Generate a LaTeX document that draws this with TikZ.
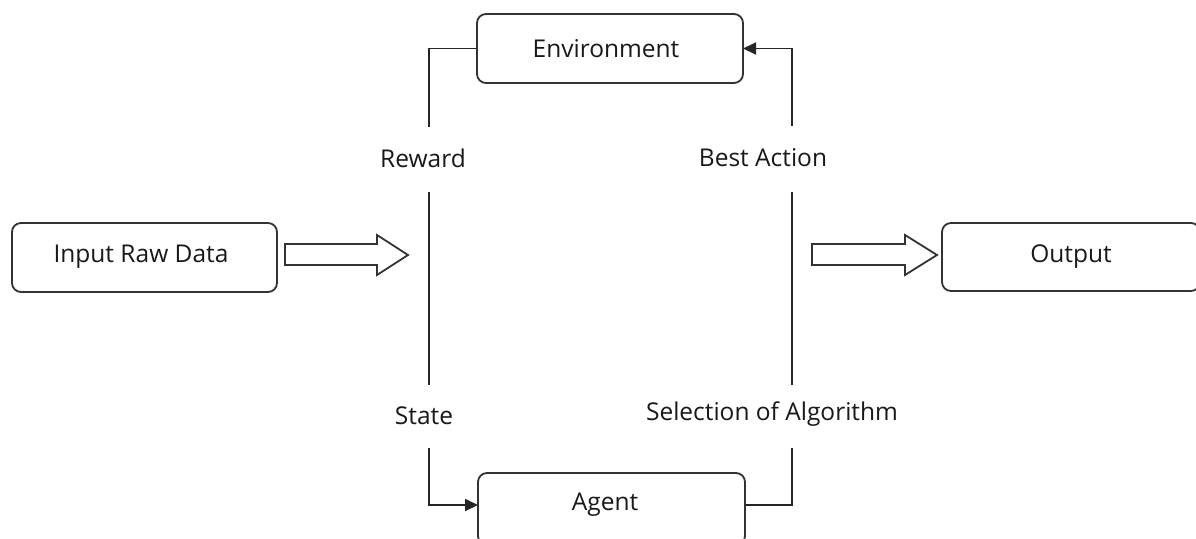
\documentclass[tikz,border=0pt]{standalone}
\usepackage{fontspec}
\setmainfont{Open Sans}
\usetikzlibrary{arrows.meta}
\begin{document}
\begin{tikzpicture}[x=1pt,y=-1pt,
  line width=1.8pt,
  box/.style={draw=black!80, rounded corners=9pt, fill=white},
  lbl/.style={font=\fontsize{24.5}{28}\selectfont, text=black!90, inner sep=0pt, anchor=center},
  conn/.style={draw=black!85, line width=1.8pt},
  hollow/.style={draw=black!80, line width=1.8pt, fill=white, line join=miter},
  tip/.style={-{Triangle[length=13pt,width=12pt]}}
]
\useasboundingbox (0,0) rectangle (1196,538);
\clip (0,0) rectangle (1196,538);
\fill[white] (0,0) rectangle (1196,538);

% boxes
\draw[box] (477,14) rectangle (743,83);
\node[lbl] (env) at (606,48.5) {Environment};
\coordinate (envW) at (477,48.5);
\coordinate (envE) at (743,48.5);

\draw[box] (478,473) rectangle (745,545);
\node[lbl] (agent) at (605,505) {Agent};
\coordinate (agW) at (478,505);
\coordinate (agE) at (745,505);

\draw[box] (12,223) rectangle (277,292);
\node[lbl] (input) at (141,257) {Input Raw Data};

\draw[box] (942,223) rectangle (1200,291);
\node[lbl] (output) at (1071,257) {Output};

% labels
\node[lbl] (reward) at (423,158) {Reward};
\node[lbl] (state) at (424,416) {State};
\node[lbl] (best) at (763,158) {Best Action};
\node[lbl] (sel) at (772,414) {Selection of Algorithm};

% line end coordinates
\coordinate (L1) at (429,127);
\coordinate (L2) at (429,192);
\coordinate (L3) at (429,385);
\coordinate (L4) at (429,448);
\coordinate (R1) at (792,126);
\coordinate (R2) at (792,192);
\coordinate (R3) at (792,385);
\coordinate (R4) at (792,448);

% connectors
\draw[conn] (envW) -| (L1);
\draw[conn] (L2) -- (L3);
\draw[conn,tip] (L4) |- (agW);
\draw[conn] (agE) -| (R4);
\draw[conn] (R3) -- (R2);
\draw[conn,tip] (R1) |- (envE);

% hollow arrows
\draw[hollow] (285,244) -- (377,244) -- (377,235) -- (408,255) -- (377,275) -- (377,265) -- (285,265) -- cycle;
\draw[hollow] (812,244) -- (905,244) -- (905,235) -- (937,255) -- (905,275) -- (905,265) -- (812,265) -- cycle;
\end{tikzpicture}
\end{document}
